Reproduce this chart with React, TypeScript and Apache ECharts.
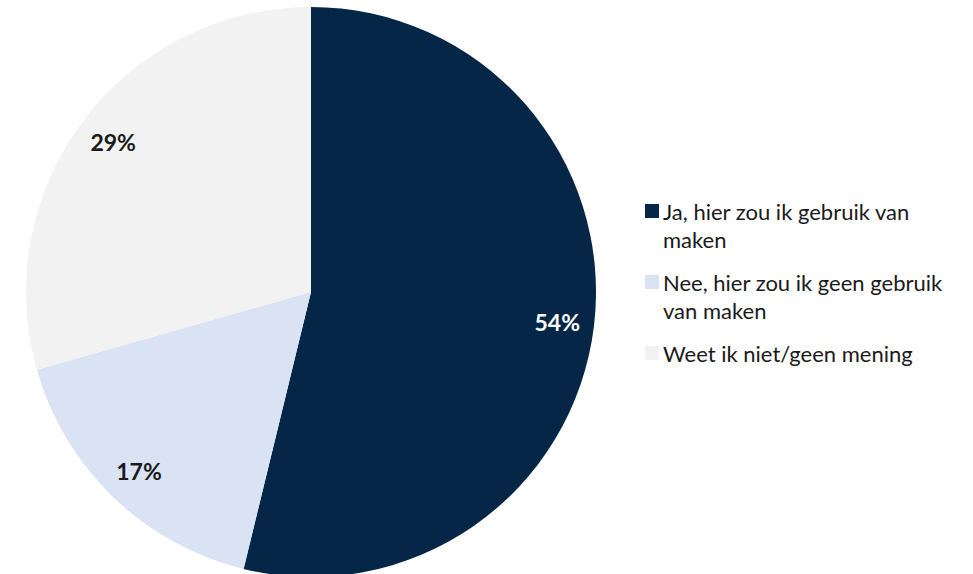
import React, { useEffect, useRef } from "react";
import * as echarts from "echarts";

const categories = [
  "Ja, hier zou ik gebruik van maken",
  "Nee, hier zou ik geen gebruik van maken",
  "Weet ik niet/geen mening",
];
const legendLines = [
  ["Ja, hier zou ik gebruik van", "maken"],
  ["Nee, hier zou ik geen gebruik", "van maken"],
  ["Weet ik niet/geen mening"],
];
const values = [53.8, 16.8, 29.4];
const colors = ["#062648", "#DAE3F3", "#F2F2F2"];
const labelColors = ["#FFFFFF", "#1a1a1a", "#1a1a1a"];

const FONT = "Lato, 'Open Sans', sans-serif";

export default function App() {
  const ref = useRef<HTMLDivElement>(null);
  useEffect(() => {
    document.body.style.margin = "0";
    const chart = echarts.init(ref.current!, null, { renderer: "svg" });
    const data = categories.map((name, i) => ({
      name,
      value: values[i],
      itemStyle: { color: colors[i] },
    }));
    const graphic: any[] = [];
    const itemTops = [211, 282, 353];
    legendLines.forEach((lines, i) => {
      graphic.push({
        type: "rect",
        shape: { x: 645, y: itemTops[i] - 7, width: 14, height: 14 },
        style: { fill: colors[i] },
      });
      lines.forEach((t, j) => {
        graphic.push({
          type: "text",
          x: 663,
          y: itemTops[i] + j * 28,
          style: {
            text: t,
            fill: "#1a1a1a",
            font: `22px ${FONT}`,
            verticalAlign: "middle",
            textAlign: "left",
          },
        });
      });
    });
    chart.setOption({
      animation: false,
      graphic,
      series: [
        {
          type: "pie",
          center: [311, 292],
          radius: [0, 285],
          startAngle: 90,
          clockwise: true,
          silent: true,
          label: { show: false },
          labelLine: { show: false },
          data,
        },
        {
          type: "pie",
          center: [311, 292],
          radius: [205, 285],
          startAngle: 90,
          clockwise: true,
          silent: true,
          itemStyle: { color: "transparent" },
          labelLine: { show: false },
          label: {
            show: true,
            position: "inside",
            formatter: (p: any) => `${Math.round(p.value)}%`,
            fontFamily: FONT,
            fontWeight: "bold",
            fontSize: 23,
            color: "#000",
          },
          data: categories.map((name, i) => ({
            name,
            value: values[i],
            itemStyle: { color: "transparent", borderWidth: 0 },
            label: { color: labelColors[i] },
          })),
        },
      ],
    });
    return () => chart.dispose();
  }, []);
  return <div ref={ref} style={{ width: 973, height: 574 }} />;
}
